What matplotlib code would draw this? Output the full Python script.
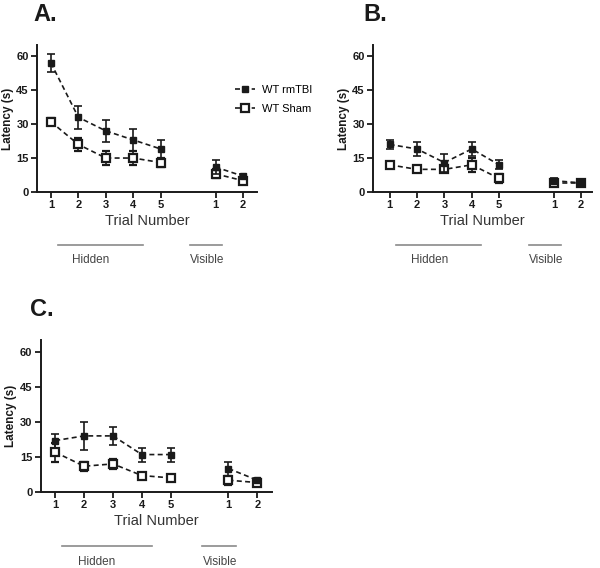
import matplotlib.pyplot as plt
from matplotlib.lines import Line2D
import matplotlib.transforms as mtransforms

plt.rcParams['font.family'] = ['Liberation Sans', 'DejaVu Sans']

# posiciones en el eje x: 5 ensayos ocultos, hueco, 2 visibles
x_pos = [1, 2, 3, 4, 5, 7, 8]
x_labels = ["1", "2", "3", "4", "5", "1", "2"]

# Panel A
a_tbi = [57, 33, 27, 23, 19, 11, 7]
a_tbi_err = [4, 5, 5, 5, 4, 3, 1]
a_sham = [31, 21, 15, 15, 13, 8, 5]
a_sham_err = [1.5, 3, 3, 3, 2, 2, 1]

# Panel B
b_tbi = [21, 19, 13, 19, 12, 5, 4]
b_tbi_err = [2, 3, 4, 3, 2, 1, 1]
b_sham = [12, 10, 10, 12, 6, 4, 4]
b_sham_err = [1, 1, 1, 3, 2, 1, 1]

# Panel C
c_tbi = [22, 24, 24, 16, 16, 10, 5]
c_tbi_err = [3, 6, 4, 3, 3, 3, 1]
c_sham = [17, 11, 12, 7, 6, 5, 4]
c_sham_err = [4, 2, 2, 1, 1, 2, 1]

COLOR = "#1a1a1a"
GRIS = "#8a8a8a"


def dibujar_panel(ax, tbi, tbi_err, sham, sham_err, xlim):
    for seg in (slice(0, 5), slice(5, 7)):
        xs = x_pos[seg]
        ax.errorbar(xs, sham[seg], yerr=sham_err[seg], color=COLOR, ls=(0, (3, 2)),
                    lw=1.2, marker="s", ms=5.5, mfc="white", mec=COLOR, mew=1.6,
                    capsize=3, elinewidth=1.2, capthick=1.2, zorder=2)
        ax.errorbar(xs, tbi[seg], yerr=tbi_err[seg], color=COLOR, ls=(0, (3, 2)),
                    lw=1.2, marker="s", ms=4.8, mfc=COLOR, mec=COLOR,
                    capsize=3, elinewidth=1.2, capthick=1.2, zorder=3)

    ax.set_xlim(*xlim)
    ax.set_ylim(0, 65)
    ax.set_yticks([0, 15, 30, 45, 60])
    ax.set_xticks(x_pos)
    ax.set_xticklabels(x_labels)
    ax.tick_params(direction="out", length=4, width=1.3, labelsize=8,
                   colors=COLOR, pad=2)
    for t in ax.get_xticklabels() + ax.get_yticklabels():
        t.set_fontweight("bold")
    for s in ("top", "right"):
        ax.spines[s].set_visible(False)
    for s in ("left", "bottom"):
        ax.spines[s].set_linewidth(1.4)
        ax.spines[s].set_color(COLOR)
    ax.set_ylabel("Latency (s)", fontsize=8.5, fontweight="bold", color=COLOR,
                  labelpad=2)
    ax.set_xlabel("Trial Number", fontsize=10.5, color="#333333", labelpad=3)

    # etiquetas Hidden / Visible debajo del eje
    trans = mtransforms.blended_transform_factory(ax.transData, ax.transAxes)
    ax.add_line(Line2D([1.25, 4.35], [-0.36, -0.36], transform=trans, color=GRIS,
                       lw=1.2, clip_on=False))
    ax.add_line(Line2D([6.08, 7.25], [-0.36, -0.36], transform=trans, color=GRIS,
                       lw=1.2, clip_on=False))
    ax.text(2.45, -0.46, "Hidden", transform=trans, ha="center", va="center",
            fontsize=8.5, color="#444444")
    ax.text(6.7, -0.46, "Visible", transform=trans, ha="center", va="center",
            fontsize=8.5, color="#444444")


fig = plt.figure(figsize=(6, 5.68), dpi=100)

ax_a = fig.add_axes([0.062, 0.662, 0.366, 0.259])
ax_b = fig.add_axes([0.622, 0.662, 0.365, 0.259])
ax_c = fig.add_axes([0.068, 0.134, 0.385, 0.267])

dibujar_panel(ax_a, a_tbi, a_tbi_err, a_sham, a_sham_err, (0.5, 8.5))
dibujar_panel(ax_b, b_tbi, b_tbi_err, b_sham, b_sham_err, (0.4, 8.4))
dibujar_panel(ax_c, c_tbi, c_tbi_err, c_sham, c_sham_err, (0.5, 8.5))

fig.text(0.055, 0.975, "A.", fontsize=17, fontweight="bold", va="center", color=COLOR)
fig.text(0.605, 0.975, "B.", fontsize=17, fontweight="bold", va="center", color=COLOR)
fig.text(0.05, 0.455, "C.", fontsize=17, fontweight="bold", va="center", color=COLOR)

h_tbi = Line2D([], [], color=COLOR, ls=(0, (3, 2)), lw=1.2, marker="s", ms=4.8,
               mfc=COLOR, mec=COLOR)
h_sham = Line2D([], [], color=COLOR, ls=(0, (3, 2)), lw=1.2, marker="s", ms=5.5,
                mfc="white", mec=COLOR, mew=1.6)
fig.legend([h_tbi, h_sham], ["WT rmTBI", "WT Sham"], loc="upper left",
           bbox_to_anchor=(0.375, 0.868), frameon=False, fontsize=8,
           handlelength=1.8, handletextpad=0.6, labelspacing=0.8)

fig.savefig("out.png", dpi=100)
